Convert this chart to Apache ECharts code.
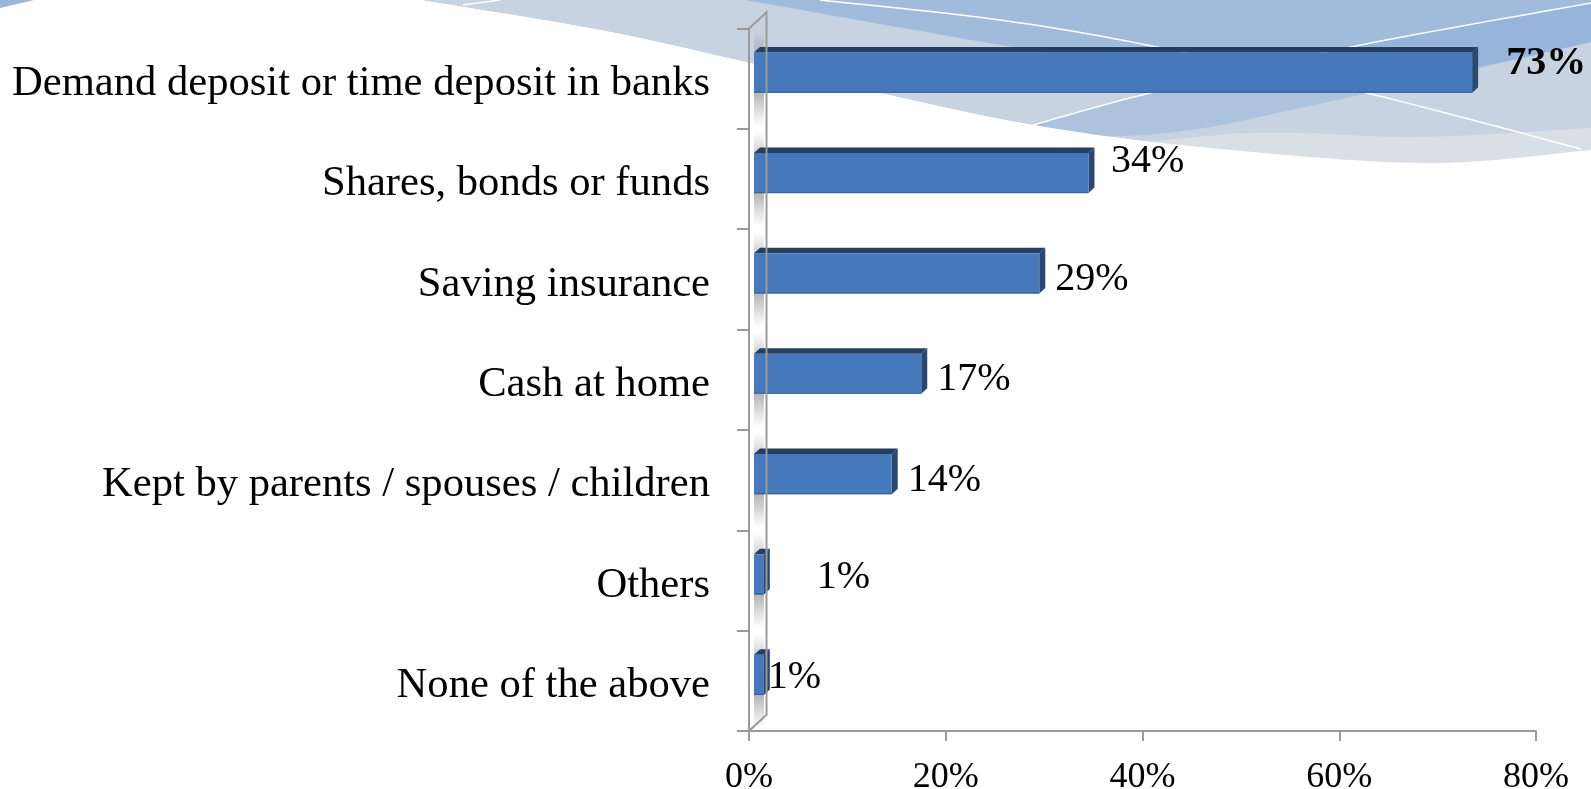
<!DOCTYPE html>
<html>
<head>
<meta charset="utf-8">
<title>Where savings are kept</title>
<script src="https://cdn.jsdelivr.net/npm/echarts@6/dist/echarts.min.js"></script>
<style>
  html, body { margin: 0; padding: 0; background: #ffffff; }
  #chart { width: 1591px; height: 789px; }
</style>
</head>
<body>
<div id="chart"></div>
<script>
// ---- data ----
const categories = [
  'Demand deposit or time deposit in banks',
  'Shares, bonds or funds',
  'Saving insurance',
  'Cash at home',
  'Kept by parents / spouses / children',
  'Others',
  'None of the above'
];
const shares = [73, 34, 29, 17, 14, 1, 1];
const axisMin = 0;
const axisMax = 80;
const axisStep = 20;

// ---- styling ----
const FONT = 'Liberation Serif, "Times New Roman", serif';
const GRID = { left: 749, right: 55, top: 28.4, bottom: 58 };
const AXIS_COLOR = '#9a9a9a';
const WALL_DEPTH = [17.5, 16.2];           // back wall offset (right, up)
const BAR = {
  ratio: 0.4,          // front face height / band height
  shiftX: 5,           // bars sit a little behind the front plane
  shiftY: -6,
  depthX: 6,
  depthY: 5.5,
  front: '#4679bb',
  top: '#263f61',
  side: '#2a4870',
  edge: '#3a6398'
};
const LABEL = { gap: 16, dy: 6, size: 40 };
// per-bar label nudges [dx, dy]
const labelNudge = [[18, -15], [6.5, -17], [0, 0], [0, 0], [0, 0], [37, -3], [-12, -3.5]];
const boldLabel = [true, false, false, false, false, false, false];

// ---- background decoration helpers ----
// Catmull-Rom curve through the given points, sampled as a dense point list
function smoothCurve(pts, steps) {
  steps = steps || 16;
  const out = [pts[0].slice()];
  for (let i = 0; i < pts.length - 1; i++) {
    const p0 = pts[i - 1] || pts[i];
    const p1 = pts[i];
    const p2 = pts[i + 1];
    const p3 = pts[i + 2] || p2;
    const c1 = [p1[0] + (p2[0] - p0[0]) / 6, p1[1] + (p2[1] - p0[1]) / 6];
    const c2 = [p2[0] - (p3[0] - p1[0]) / 6, p2[1] - (p3[1] - p1[1]) / 6];
    for (let s = 1; s <= steps; s++) {
      const t = s / steps, u = 1 - t;
      const a = u * u * u, b = 3 * u * u * t, c = 3 * u * t * t, d = t * t * t;
      out.push([
        a * p1[0] + b * c1[0] + c * c2[0] + d * p2[0],
        a * p1[1] + b * c1[1] + c * c2[1] + d * p2[1]
      ]);
    }
  }
  return out;
}
const baseEdge = [[420, 0], [600, 30], [750, 63], [880, 93], [1033, 125], [1200, 147], [1424, 163], [1591, 150]];
const swooshEdge = [[745, 0], [1013, 47], [1200, 76], [1350, 82], [1470, 68], [1591, 42]];
const bandTop = [[1033, 125], [1150, 93], [1351, 47], [1591, 3]];
const bandBottom = [[1591, 42], [1471, 70], [1291, 110], [1191, 130], [1100, 136], [1033, 125]];
const paleTop = [[1080, 150], [1250, 133], [1420, 137], [1591, 128]];
const streak1 = [[820, 0], [1000, 20], [1157, 47], [1371, 94], [1581, 149]];
const streak2 = [[1033, 125], [1150, 93], [1351, 47], [1591, 3]];

function bgShape(points, fill) {
  return { type: 'polygon', z: -10, silent: true, shape: { points: points }, style: { fill: fill } };
}
function bgLine(points) {
  return {
    type: 'polyline', z: -10, silent: true, shape: { points: points },
    style: { fill: null, stroke: '#ffffff', lineWidth: 1.5 }
  };
}

const wallOutline = [
  [GRID.left, GRID.top],
  [GRID.left + WALL_DEPTH[0], GRID.top - WALL_DEPTH[1]],
  [GRID.left + WALL_DEPTH[0], 789 - GRID.bottom - WALL_DEPTH[1]],
  [GRID.left, 789 - GRID.bottom]
];

const graphics = [
  bgShape(smoothCurve(baseEdge).concat([[1591, 0]]), '#c7d3e1'),
  bgShape(smoothCurve(paleTop).concat([[1591, 260], [1080, 260]]), '#d8e0e6'),
  bgShape(smoothCurve(swooshEdge).concat([[1591, 0]]), '#a1bbdc'),
  bgShape(smoothCurve(bandTop).concat(smoothCurve(bandBottom)), 'rgba(140,172,218,0.45)'),
  // plain white below the decoration edge
  bgShape(smoothCurve(baseEdge).concat([[1591, 300], [0, 300], [0, 0]]), '#ffffff'),
  bgShape([[0, 0], [34, 0], [0, 8]], '#9bb6d9'),
  bgLine(smoothCurve(streak1)),
  bgLine(smoothCurve(streak2)),
  bgLine([[463, 5], [500, 0]]),
  {
    type: 'polyline', z: 5, silent: true,
    shape: { points: wallOutline },
    style: { fill: null, stroke: AXIS_COLOR, lineWidth: 2 }
  }
];

// ---- 3D bars ----
function renderBar(params, api) {
  const idx = api.value(1);
  const val = api.value(0);
  const origin = api.coord([0, idx]);
  const xStart = origin[0];
  const yc = origin[1];
  const xEnd = api.coord([val, idx])[0];
  const band = api.size([0, 1])[1];
  const h = band * BAR.ratio;
  const left = xStart + BAR.shiftX;
  const right = xEnd + BAR.shiftX;
  const top = yc + BAR.shiftY - h / 2;
  const bottom = top + h;
  const dx = BAR.depthX, dy = BAR.depthY;
  const nudge = labelNudge[idx] || [0, 0];

  return {
    type: 'group',
    children: [
      {
        type: 'rect',
        shape: { x: xStart + 5, y: yc - band / 2 + 3, width: 10, height: band - 6 },
        style: {
          fill: {
            type: 'linear', x: 0, y: 0, x2: 0, y2: 1,
            colorStops: [
              { offset: 0, color: 'rgba(110,110,110,0)' },
              { offset: 0.5, color: 'rgba(100,100,100,0.7)' },
              { offset: 1, color: 'rgba(110,110,110,0)' }
            ]
          }
        }
      },
      {
        type: 'polygon',
        shape: { points: [[left, top], [left + dx, top - dy], [right + dx, top - dy], [right, top]] },
        style: { fill: BAR.top }
      },
      {
        type: 'polygon',
        shape: { points: [[right, top], [right + dx, top - dy], [right + dx, bottom - dy], [right, bottom]] },
        style: { fill: BAR.side }
      },
      {
        type: 'rect',
        shape: { x: left, y: top, width: right - left, height: h },
        style: { fill: BAR.front }
      },
      {
        type: 'line',
        shape: { x1: left, y1: bottom - 0.5, x2: right, y2: bottom - 0.5 },
        style: { stroke: BAR.edge, lineWidth: 1.2 }
      },
      {
        type: 'text',
        x: right + LABEL.gap + nudge[0],
        y: yc + BAR.shiftY + LABEL.dy + nudge[1],
        style: {
          text: val + '%',
          fontFamily: FONT,
          fontSize: LABEL.size,
          fontWeight: boldLabel[idx] ? 'bold' : 'normal',
          fill: '#000000',
          align: 'left',
          verticalAlign: 'middle'
        }
      }
    ]
  };
}

const chart = echarts.init(document.getElementById('chart'), null, { renderer: 'canvas' });
chart.setOption({
  backgroundColor: '#ffffff',
  animation: false,
  graphic: { elements: graphics },
  grid: {
    left: GRID.left, right: GRID.right, top: GRID.top, bottom: GRID.bottom,
    containLabel: false,
    outerBoundsMode: 'none'
  },
  xAxis: {
    type: 'value',
    min: axisMin,
    max: axisMax,
    interval: axisStep,
    axisLine: { show: true, lineStyle: { color: AXIS_COLOR, width: 2 } },
    axisTick: { show: true, length: 10, lineStyle: { color: AXIS_COLOR, width: 2 } },
    splitLine: { show: false },
    axisLabel: {
      formatter: '{value}%',
      fontFamily: FONT,
      fontSize: 36,
      color: '#000000',
      margin: 29
    }
  },
  yAxis: {
    type: 'category',
    inverse: true,
    data: categories,
    axisLine: { show: true, lineStyle: { color: AXIS_COLOR, width: 2 } },
    axisTick: { show: true, length: 12, lineStyle: { color: AXIS_COLOR, width: 2 } },
    splitLine: { show: false },
    axisLabel: {
      fontFamily: FONT,
      fontSize: 42.6,
      color: '#000000',
      margin: 39,
      verticalAlign: 'top',
      lineHeight: 10,
      interval: 0
    }
  },
  series: [{
    type: 'custom',
    renderItem: renderBar,
    encode: { x: 0, y: 1 },
    data: shares.map((v, i) => [v, i]),
    z: 3
  }]
});
</script>
</body>
</html>
